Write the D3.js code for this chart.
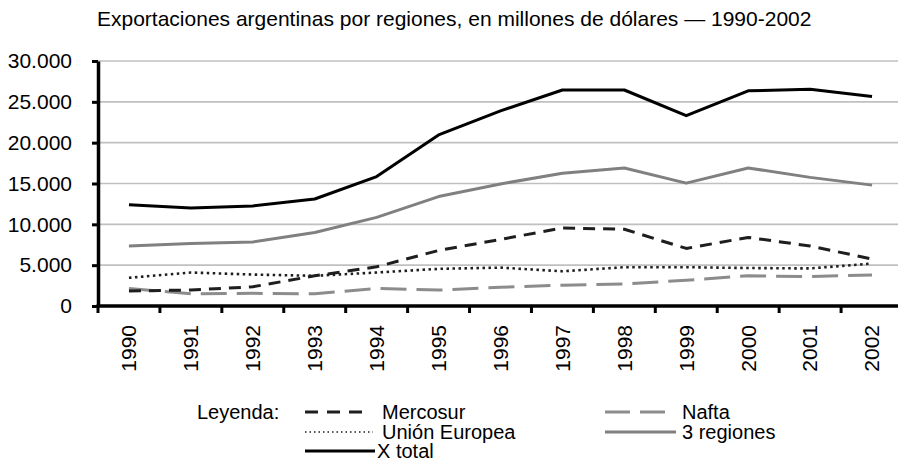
<!DOCTYPE html>
<html>
<head>
<meta charset="utf-8">
<script src="https://cdn.jsdelivr.net/npm/d3@7"></script>
<style>
  body { margin: 0; background: #fff; }
  text { font-family: Arial, "Liberation Sans", sans-serif; fill: #000; }
</style>
</head>
<body>
<div id="chart"></div>
<script>
const years = ['1990','1991','1992','1993','1994','1995','1996','1997','1998','1999','2000','2001','2002'];
const mercosur = [1850, 1950, 2350, 3700, 4800, 6800, 8150, 9550, 9400, 7050, 8400, 7350, 5750];
const nafta = [2150, 1500, 1550, 1500, 2150, 1950, 2300, 2550, 2700, 3150, 3700, 3600, 3800];
const unionEuropea = [3450, 4100, 3850, 3700, 4100, 4550, 4700, 4250, 4750, 4750, 4650, 4600, 5200];
const tresRegiones = [7350, 7650, 7850, 9000, 10850, 13400, 14950, 16250, 16900, 15050, 16900, 15750, 14800];
const xTotal = [12400, 12000, 12250, 13100, 15850, 20950, 23900, 26450, 26450, 23300, 26350, 26550, 25650];
const yTicks = [0, 5000, 10000, 15000, 20000, 25000, 30000];

const title = 'Exportaciones argentinas por regiones, en millones de dólares — 1990-2002';

const series = [
  {name: 'Mercosur', values: mercosur, color: '#1e1e1e', width: 3, dash: '12,8', legendDash: '13,9', legendLen: 58, col: 0, row: 0},
  {name: 'Unión Europea', values: unionEuropea, color: '#1e1e1e', width: 2.6, dash: '2.5,3.5', legendDash: '1.5,3', legendWidth: 1.6, legendLen: 68, col: 0, row: 1},
  {name: 'X total', values: xTotal, color: '#000', width: 3, dash: null, legendLen: 70, textShift: -5, col: 0, row: 2},
  {name: 'Nafta', values: nafta, color: '#8c8c8c', width: 3, dash: '26,10', legendDash: '25,10', legendLen: 60, col: 1, row: 0},
  {name: '3 regiones', values: tresRegiones, color: '#808080', width: 3, dash: null, legendLen: 71, col: 1, row: 1}
];

const W = 898, H = 463,
      margin = {top: 61, left: 98},
      plotW = 805, plotH = 245;

const locale = d3.formatLocale({decimal: ',', thousands: '.', grouping: [3], currency: ['$', '']});
const fmt = locale.format(',');

const svg = d3.select('#chart').append('svg')
  .attr('width', W)
  .attr('height', H);

const x = d3.scaleBand()
  .domain(years)
  .range([margin.left, margin.left + plotW]);

const y = d3.scaleLinear()
  .domain([0, 30000])
  .range([margin.top + plotH, margin.top]);

// title
svg.append('text')
  .attr('x', 97)
  .attr('y', 26)
  .style('font-size', '21px')
  .text(title);

// gridlines
svg.append('g')
  .selectAll('line')
  .data(yTicks.filter(d => d > 0))
  .enter()
  .append('line')
    .attr('x1', margin.left)
    .attr('x2', margin.left + plotW)
    .attr('y1', d => y(d))
    .attr('y2', d => y(d))
    .attr('stroke', '#c0c0c0')
    .attr('stroke-width', 1.6);

// series lines
const line = d3.line()
  .x((d, i) => x(years[i]) + x.bandwidth() / 2)
  .y(d => y(d));

svg.append('g')
  .selectAll('path')
  .data(series.slice().reverse())
  .enter()
  .append('path')
    .attr('d', d => line(d.values))
    .attr('fill', 'none')
    .attr('stroke', d => d.color)
    .attr('stroke-width', d => d.width)
    .attr('stroke-dasharray', d => d.dash)
    .attr('stroke-linejoin', 'round');

// y axis
const yAxis = d3.axisLeft(y)
  .tickValues(yTicks)
  .tickFormat(fmt)
  .tickSize(6)
  .tickSizeOuter(0)
  .tickPadding(20);

const gy = svg.append('g')
  .attr('transform', 'translate(' + margin.left + ',0)')
  .call(yAxis);
gy.select('.domain').attr('stroke-width', 3.5);
gy.selectAll('.tick line').attr('stroke-width', 3);
gy.selectAll('.tick text')
  .style('font-size', '21px')
  .style('font-family', 'Arial, "Liberation Sans", sans-serif');

// x axis
const gx = svg.append('g');
gx.append('line')
  .attr('x1', margin.left - 1.5)
  .attr('x2', margin.left + plotW)
  .attr('y1', y(0))
  .attr('y2', y(0))
  .attr('stroke', '#000')
  .attr('stroke-width', 3.5);

gx.selectAll('.xtick')
  .data(years)
  .enter()
  .append('line')
    .attr('class', 'xtick')
    .attr('x1', d => x(d))
    .attr('x2', d => x(d))
    .attr('y1', y(0))
    .attr('y2', y(0) + 7)
    .attr('stroke', '#000')
    .attr('stroke-width', 3);

gx.selectAll('.xlabel')
  .data(years)
  .enter()
  .append('text')
    .attr('class', 'xlabel')
    .attr('transform', d => 'translate(' + (x(d) + x.bandwidth() / 2) + ',' + (y(0) + 19) + ') rotate(-90)')
    .attr('dy', '0.35em')
    .attr('text-anchor', 'end')
    .style('font-size', '21px')
    .text(d => d);

// legend
const legend = svg.append('g');
const colX = [305, 605], textX = [382, 682], rowY = [412, 432, 451];

legend.append('text')
  .attr('x', 197)
  .attr('y', rowY[0] + 7)
  .style('font-size', '20px')
  .text('Leyenda:');

const items = legend.selectAll('.item')
  .data(series)
  .enter()
  .append('g')
    .attr('class', 'item');

items.append('line')
  .attr('x1', d => colX[d.col])
  .attr('x2', d => colX[d.col] + d.legendLen)
  .attr('y1', d => rowY[d.row])
  .attr('y2', d => rowY[d.row])
  .attr('stroke', d => d.color)
  .attr('stroke-width', d => d.legendWidth || 3.2)
  .attr('stroke-dasharray', d => d.legendDash || null);

items.append('text')
  .attr('x', d => textX[d.col] + (d.textShift || 0))
  .attr('y', d => rowY[d.row] + 7)
  .style('font-size', '20px')
  .text(d => d.name);
</script>
</body>
</html>
